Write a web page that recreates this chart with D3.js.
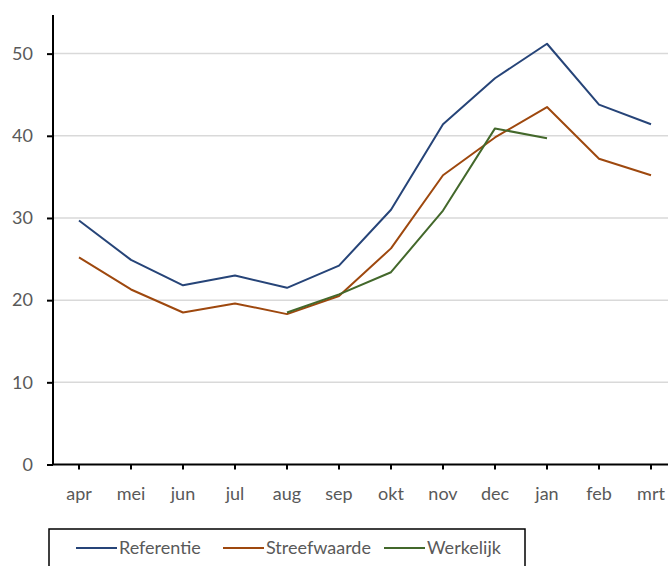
<!DOCTYPE html>
<html>
<head>
<meta charset="utf-8">
<script src="https://cdn.jsdelivr.net/npm/d3@7"></script>
<style>
  html, body { margin: 0; padding: 0; background: #fff; }
  svg { display: block; }
  text { font-family: Lato, "Open Sans", sans-serif; fill: #595959; }
</style>
</head>
<body>
<svg id="chart" width="668" height="566"></svg>
<script>
// Months of the year (April to March)
const months = ["apr", "mei", "jun", "jul", "aug", "sep", "okt", "nov", "dec", "jan", "feb", "mrt"];

// Series values per month (null = no data yet)
const referentie = [29.7, 24.9, 21.8, 23.0, 21.5, 24.2, 31.0, 41.4, 47.0, 51.2, 43.8, 41.4];
const streefwaarde = [25.2, 21.3, 18.5, 19.6, 18.3, 20.5, 26.3, 35.2, 39.8, 43.5, 37.2, 35.2];
const werkelijk = [null, null, null, null, 18.5, 20.7, 23.4, 30.9, 40.9, 39.7, null, null];

const yTicks = [0, 10, 20, 30, 40, 50];

const seriesNames = ["Referentie", "Streefwaarde", "Werkelijk"];
const seriesColors = ["#264478", "#9E480E", "#43682B"];
const seriesData = [referentie, streefwaarde, werkelijk];

const svg = d3.select("#chart");

const x = d3.scaleBand().domain(months).range([53, 677]).padding(0);
const cx = m => x(m) + x.bandwidth() / 2;
const y = d3.scaleLinear().domain([0, 54.7]).range([464.5, 15]);

// Horizontal gridlines
svg.append("g")
  .selectAll("line")
  .data(yTicks.filter(t => t > 0))
  .join("line")
  .attr("x1", 53).attr("x2", 668)
  .attr("y1", d => y(d)).attr("y2", d => y(d))
  .attr("stroke", "#D9D9D9")
  .attr("stroke-width", 1.5);

// Series lines
const line = d3.line()
  .defined(d => d.v !== null)
  .x(d => cx(d.m))
  .y(d => y(d.v));

seriesData.forEach((vals, i) => {
  svg.append("path")
    .datum(months.map((m, j) => ({ m, v: vals[j] })))
    .attr("fill", "none")
    .attr("stroke", seriesColors[i])
    .attr("stroke-width", 2)
    .attr("stroke-linejoin", "round")
    .attr("d", line);
});

// Y axis
const yAxis = svg.append("g")
  .attr("transform", "translate(53,0)")
  .call(d3.axisLeft(y).tickValues(yTicks).tickSize(6).tickPadding(14).tickFormat(d3.format("d")));
yAxis.select(".domain").attr("stroke", "#000").attr("stroke-width", 2).attr("d", `M0,${y(0)}V15`);
yAxis.selectAll(".tick line").attr("stroke", "#000").attr("stroke-width", 2);
yAxis.selectAll(".tick text").attr("font-size", 18).style("fill", "#595959");

// X axis
const xAxis = svg.append("g")
  .attr("transform", `translate(0,${y(0)})`)
  .call(d3.axisBottom(x).tickSize(5).tickPadding(18));
xAxis.select(".domain").attr("stroke", "#000").attr("stroke-width", 2).attr("d", "M53,0H668");
xAxis.selectAll(".tick line").attr("stroke", "#000").attr("stroke-width", 2);
xAxis.selectAll(".tick text").attr("font-size", 18).style("fill", "#595959");

// Legend
const legend = svg.append("g");
legend.append("rect")
  .attr("x", 49).attr("y", 529)
  .attr("width", 476).attr("height", 50)
  .attr("fill", "#fff")
  .attr("stroke", "#000")
  .attr("stroke-width", 1.5);

const legendX = [76, 223, 384];
seriesNames.forEach((name, i) => {
  const g = legend.append("g").attr("transform", `translate(${legendX[i]},548)`);
  g.append("line")
    .attr("x1", 0).attr("x2", 41)
    .attr("y1", 0).attr("y2", 0)
    .attr("stroke", seriesColors[i])
    .attr("stroke-width", 2);
  g.append("text")
    .attr("x", 43)
    .attr("dy", "0.35em")
    .attr("font-size", 18)
    .text(name);
});
</script>
</body>
</html>
